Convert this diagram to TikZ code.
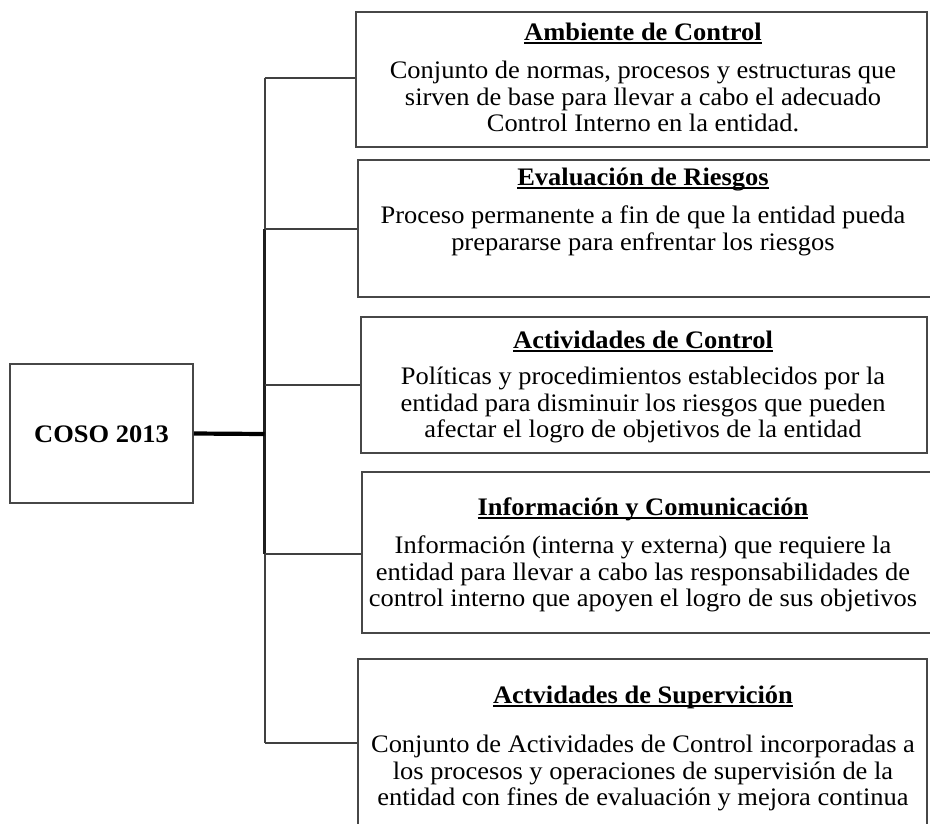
\documentclass[tikz,border=0pt]{standalone}
\usepackage{fontspec}
\setmainfont{Liberation Serif}[FakeStretch=1.05]
\newcommand\myul[1]{\setbox0=\hbox{#1}\rlap{\rule[-3.6pt]{\wd0}{1.3pt}}\box0}
\begin{document}
\begin{tikzpicture}[x=1pt,y=-1pt,
  box/.style={draw=black!72, line width=2pt, inner sep=0pt, fill=white},
  ttl/.style={font=\fontsize{25.2}{26.5}\selectfont\bfseries, anchor=base, inner sep=0pt},
  body/.style={font=\fontsize{25.2}{26.8}\selectfont, align=center, anchor=north, inner sep=0pt},
  link/.style={draw=black!75, line width=2pt},
  trunk/.style={draw=black!88, line width=3.4pt},
  main/.style={draw=black, line width=4.2pt}]
\useasboundingbox (0,0) rectangle (930,823);
\fill[white] (0,0) rectangle (930,823);
% boxes
\node[box, minimum width=183pt, minimum height=139pt] (coso) at (101.5,433.5) {};
\node[font=\fontsize{25.2}{26.5}\selectfont\bfseries, anchor=base, inner sep=0pt] (cosot) at (101.5,442) {COSO 2013};
\node[box, minimum width=571pt, minimum height=135pt] (b1) at (641.5,79.5) {};
\node[box, minimum width=582pt, minimum height=137pt] (b2) at (649,228.5) {};
\node[box, minimum width=566pt, minimum height=136pt] (b3) at (644,385) {};
\node[box, minimum width=578pt, minimum height=161pt] (b4) at (651,552.5) {};
\node[box, minimum width=569pt, minimum height=180pt] (b5) at (642.5,749) {};
% texts
\node[ttl] (t1) at (643,40) {\myul{Ambiente de Control}};
\node[body] (d1) at (643,59.3) {\strut Conjunto de normas, procesos y estructuras que\\sirven de base para llevar a cabo el adecuado\\Control Interno en la entidad.};
\node[ttl] (t2) at (643,185) {\myul{Evaluación de Riesgos}};
\node[body] (d2) at (643,204.3) {\strut Proceso permanente a fin de que la entidad pueda\\prepararse para enfrentar los riesgos};
\node[ttl] (t3) at (643,348) {\myul{Actividades de Control}};
\node[body] (d3) at (643,365.3) {\strut Políticas y procedimientos establecidos por la\\entidad para disminuir los riesgos que pueden\\afectar el logro de objetivos de la entidad};
\node[ttl] (t4) at (643,515) {\myul{Información y Comunicación}};
\node[body] (d4) at (643,534.3) {\strut Información (interna y externa) que requiere la\\entidad para llevar a cabo las responsabilidades de\\control interno que apoyen el logro de sus objetivos};
\node[ttl] (t5) at (643,703) {\myul{Actvidades de Supervición}};
\node[body] (d5) at (643,733.3) {\strut Conjunto de Actividades de Control incorporadas a\\los procesos y operaciones de supervisión de la\\entidad con fines de evaluación y mejora continua};
% connectors
\coordinate (j) at (264.5,434);
\coordinate (c1) at (264.5,78);
\coordinate (c2) at (264.5,229);
\coordinate (c3) at (264.5,385);
\coordinate (c4) at (264.5,554);
\coordinate (c5) at (264.5,743);
\draw[link] (c1) -- (c2);
\draw[link] (c4) -- (c5);
\draw[trunk] (c2) -- (c4);
\draw[link] (c1) -- (b1.west |- c1);
\draw[link] (c2) -- (b2.west |- c2);
\draw[link] (c3) -- (b3.west |- c3);
\draw[link] (c4) -- (b4.west |- c4);
\draw[link] (c5) -- (b5.west |- c5);
\draw[main] (coso.east) -- (j);
\end{tikzpicture}
\end{document}
